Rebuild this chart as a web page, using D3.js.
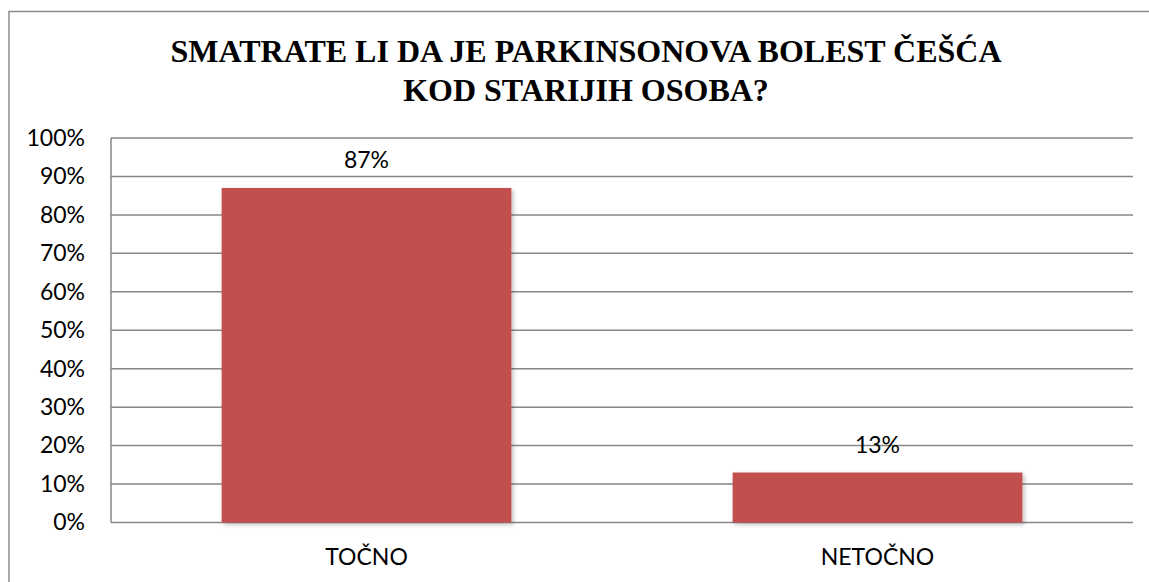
<!DOCTYPE html>
<html>
<head>
<meta charset="utf-8">
<script src="https://cdn.jsdelivr.net/npm/d3@7"></script>
<style>
  body { margin: 0; background: #fff; }
  svg { display: block; }
</style>
</head>
<body>
<div id="chart"></div>
<script>
var titleLines = ["SMATRATE LI DA JE PARKINSONOVA BOLEST ČEŠĆA", "KOD STARIJIH OSOBA?"];
var categories = ["TOČNO", "NETOČNO"];
var values = [0.87, 0.13];
var valueLabels = ["87%", "13%"];
var yTicks = [0, 0.1, 0.2, 0.3, 0.4, 0.5, 0.6, 0.7, 0.8, 0.9, 1];

var width = 1149, height = 582;
var plot = { left: 111, right: 1133, top: 138, bottom: 522.5 };
var labelFont = "Lato, 'Open Sans', sans-serif";

var svg = d3.select("#chart").append("svg")
    .attr("width", width)
    .attr("height", height);

var defs = svg.append("defs");
var shadow = defs.append("filter").attr("id", "shadow")
    .attr("x", "-5%").attr("y", "-5%").attr("width", "115%").attr("height", "115%");
shadow.append("feDropShadow")
    .attr("dx", 2).attr("dy", 2).attr("stdDeviation", 2)
    .attr("flood-color", "#000").attr("flood-opacity", 0.25);

// outer frame
svg.append("rect")
    .attr("x", 9).attr("y", 11.5)
    .attr("width", 1160).attr("height", 600)
    .attr("fill", "none")
    .attr("stroke", "#8c8c8c")
    .attr("stroke-width", 1.5);

var x = d3.scaleBand()
    .domain(categories)
    .range([plot.left, plot.right])
    .paddingInner(0.433)
    .paddingOuter(0.2165);

var y = d3.scaleLinear()
    .domain([0, 1])
    .range([plot.bottom, plot.top]);

// gridlines
svg.append("g")
    .selectAll("line")
    .data(yTicks)
    .join("line")
    .attr("x1", plot.left)
    .attr("x2", plot.right)
    .attr("y1", function (d) { return y(d); })
    .attr("y2", function (d) { return y(d); })
    .attr("stroke", "#878787")
    .attr("stroke-width", 1.5);

// y axis line
svg.append("line")
    .attr("x1", plot.left).attr("x2", plot.left)
    .attr("y1", plot.top).attr("y2", plot.bottom)
    .attr("stroke", "#878787")
    .attr("stroke-width", 1.5);

// y tick labels
var yAxis = svg.append("g")
    .attr("transform", "translate(" + plot.left + ",0)")
    .call(d3.axisLeft(y).tickValues(yTicks).tickFormat(d3.format(".0%")).tickSize(0).tickPadding(26));
yAxis.select(".domain").remove();
yAxis.selectAll("text")
    .attr("font-family", labelFont)
    .attr("font-size", "23px")
    .attr("fill", "#000");

// bars
svg.append("g")
    .selectAll("rect")
    .data(values)
    .join("rect")
    .attr("x", function (d, i) { return x(categories[i]); })
    .attr("y", function (d) { return y(d); })
    .attr("width", x.bandwidth())
    .attr("height", function (d) { return y(0) - y(d); })
    .attr("fill", "#c0504d")
    .attr("filter", "url(#shadow)");

// value labels
svg.append("g")
    .selectAll("text")
    .data(values)
    .join("text")
    .attr("x", function (d, i) { return x(categories[i]) + x.bandwidth() / 2; })
    .attr("y", function (d) { return y(d) - 20; })
    .attr("text-anchor", "middle")
    .attr("font-family", labelFont)
    .attr("font-size", "23px")
    .attr("fill", "#000")
    .text(function (d, i) { return valueLabels[i]; });

// category labels
var xAxis = svg.append("g")
    .attr("transform", "translate(0," + plot.bottom + ")")
    .call(d3.axisBottom(x).tickSize(0));
xAxis.select(".domain").remove();
xAxis.selectAll("text")
    .attr("y", 42.5)
    .attr("dy", 0)
    .attr("font-family", labelFont)
    .attr("font-size", "23px")
    .attr("fill", "#000");

// title
svg.append("g")
    .selectAll("text")
    .data(titleLines)
    .join("text")
    .attr("x", 586)
    .attr("y", function (d, i) { return 62 + i * 38.5; })
    .attr("text-anchor", "middle")
    .attr("font-family", "'Liberation Serif', 'Times New Roman', serif")
    .attr("font-weight", "bold")
    .attr("font-size", "32px")
    .attr("fill", "#000")
    .text(function (d) { return d; });
</script>
</body>
</html>
